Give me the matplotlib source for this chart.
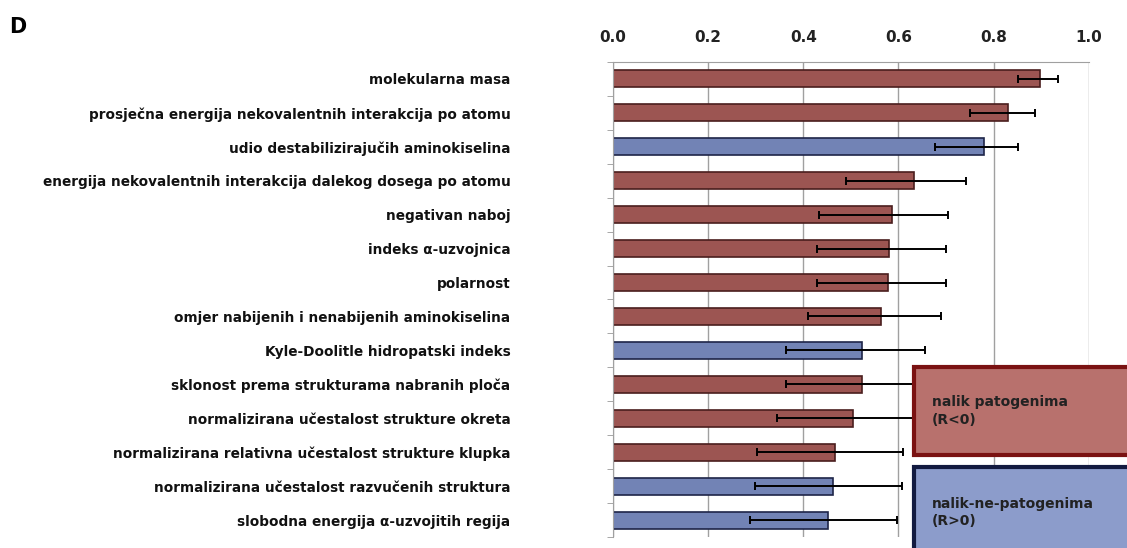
import matplotlib
matplotlib.use('Agg')
import matplotlib.pyplot as plt
from matplotlib.patches import Rectangle
import numpy as np

# data (top to bottom)
labels = ["molekularna masa",
          "prosječna energija nekovalentnih interakcija po atomu",
          "udio destabilizirajučih aminokiselina",
          "energija nekovalentnih interakcija dalekog dosega po atomu",
          "negativan naboj",
          "indeks α-uzvojnica",
          "polarnost",
          "omjer nabijenih i nenabijenih aminokiselina",
          "Kyle-Doolitle hidropatski indeks",
          "sklonost prema strukturama nabranih ploča",
          "normalizirana učestalost strukture okreta",
          "normalizirana relativna učestalost strukture klupka",
          "normalizirana učestalost razvučenih struktura",
          "slobodna energija α-uzvojitih regija"]
values = [0.898, 0.830, 0.779, 0.632, 0.587, 0.580, 0.578,
          0.563, 0.523, 0.523, 0.504, 0.466, 0.463, 0.452]
err_low = [0.047, 0.080, 0.103, 0.143, 0.154, 0.151, 0.150,
           0.153, 0.160, 0.160, 0.160, 0.164, 0.164, 0.164]
err_high = [0.037, 0.057, 0.072, 0.111, 0.117, 0.121, 0.121,
            0.126, 0.133, 0.133, 0.135, 0.144, 0.144, 0.146]
groups = ["pat", "pat", "nepat", "pat", "pat", "pat", "pat",
          "pat", "nepat", "pat", "pat", "pat", "nepat", "nepat"]

bar_col = {"pat": "#9c5552", "nepat": "#7283b5"}
edge_col = {"pat": "#4a1e1e", "nepat": "#1e2548"}

fig = plt.figure(figsize=(11.27, 5.48), dpi=100)
ax = fig.add_axes([0.544, 0.020, 0.422, 0.867])

y = np.arange(len(labels))
ax.barh(y, values, height=0.5,
        color=[bar_col[g] for g in groups],
        edgecolor=[edge_col[g] for g in groups], linewidth=1.2, zorder=2)
ax.errorbar(values, y, xerr=[err_low, err_high], fmt='none', ecolor='black',
            elinewidth=1.4, capsize=3, capthick=1.4, zorder=3)

ax.set_xlim(0, 1.0)
ax.set_ylim(len(labels) - 0.5, -0.5)
ax.set_xticks(np.arange(0, 1.01, 0.2))
ax.set_xticklabels(["%.1f" % v for v in np.arange(0, 1.01, 0.2)],
                   fontsize=11, fontweight='bold', color='#222222')
ax.xaxis.tick_top()
ax.tick_params(axis='x', length=0, pad=12)
ax.grid(axis='x', color='#a0a0a0', linewidth=1.0, zorder=0)

ax.set_yticks(y)
ax.set_yticklabels(labels, fontsize=9.8, fontweight='bold', color='#111111')
ax.tick_params(axis='y', length=0, pad=74)
ax.set_yticks(np.arange(-0.5, len(labels) + 0.5, 1), minor=True)
ax.tick_params(axis='y', which='minor', length=4, color='#999999', direction='out')

for s in ['bottom', 'right']:
    ax.spines[s].set_visible(False)
ax.spines['top'].set_color('#a0a0a0')
ax.spines['left'].set_color('#a0a0a0')

fig.text(0.008, 0.950, "D", fontsize=15, fontweight='bold', va='center')

# legend boxes
fig.patches.append(Rectangle((0.811, 0.170), 0.22, 0.160, transform=fig.transFigure,
                             facecolor='#b8716d', edgecolor='#7a1212', linewidth=3,
                             zorder=5, figure=fig))
fig.patches.append(Rectangle((0.811, -0.05), 0.22, 0.198, transform=fig.transFigure,
                             facecolor='#8c9ccb', edgecolor='#121a40', linewidth=3,
                             zorder=5, figure=fig))
fig.text(0.827, 0.250, "nalik patogenima\n(R<0)", fontsize=10, fontweight='bold',
         va='center', color='#222222', linespacing=1.3, zorder=6)
fig.text(0.827, 0.065, "nalik-ne-patogenima\n(R>0)", fontsize=10, fontweight='bold',
         va='center', color='#222222', linespacing=1.3, zorder=6)

fig.savefig("out.png", dpi=100)
